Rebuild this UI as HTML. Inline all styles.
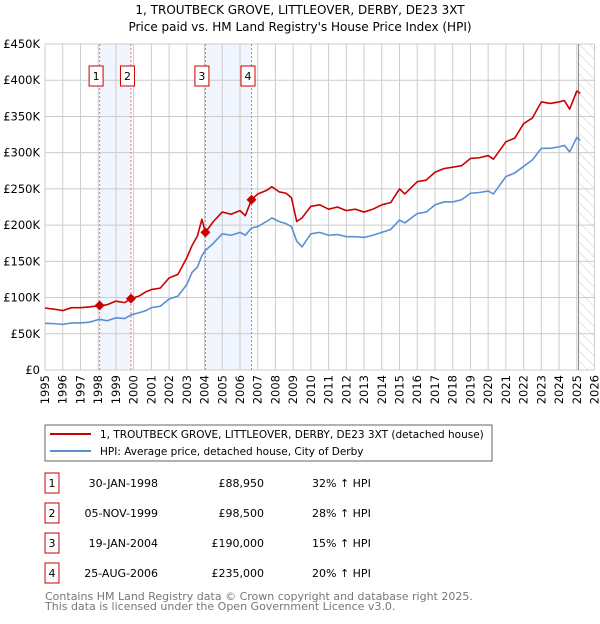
<!DOCTYPE html>
<html><head><meta charset="utf-8"><style>
body{margin:0;background:#fff;width:600px;height:620px;overflow:hidden;font-family:"DejaVu Sans","Liberation Sans",sans-serif}
svg text{font-family:"DejaVu Sans","Liberation Sans",sans-serif}
</style></head><body>
<svg id="chart" width="600" height="620">
<defs><pattern id="hatch" width="7" height="7" patternUnits="userSpaceOnUse" patternTransform="rotate(-45)"><line x1="0" y1="0" x2="0" y2="7" stroke="#ccc" stroke-width="1"/></pattern></defs>
<text x="300" y="14" text-anchor="middle" font-size="12">1, TROUTBECK GROVE, LITTLEOVER, DERBY, DE23 3XT</text>
<text x="300" y="31" text-anchor="middle" font-size="12">Price paid vs. HM Land Registry's House Price Index (HPI)</text>
<g id="plot"></g>
<rect x="45" y="425" width="447" height="36" fill="#fff" stroke="#666"/>
<line x1="50" y1="434" x2="91" y2="434" stroke="#cc0000" stroke-width="2"/>
<text x="100" y="438" font-size="10.5">1, TROUTBECK GROVE, LITTLEOVER, DERBY, DE23 3XT (detached house)</text>
<line x1="50" y1="451" x2="91" y2="451" stroke="#5b8fd4" stroke-width="2"/>
<text x="100" y="455" font-size="10.5">HPI: Average price, detached house, City of Derby</text>
<g id="table" font-size="11"></g>
<text x="45" y="600" font-size="11" fill="#777">Contains HM Land Registry data © Crown copyright and database right 2025.</text>
<text x="45" y="610" font-size="11" fill="#777">This data is licensed under the Open Government Licence v3.0.</text>
</svg>
<script>
const years=[1995,1995.5,1996,1996.5,1997,1997.5,1998.08,1998.5,1999,1999.5,1999.85,2000.3,2000.7,2001,2001.5,2002,2002.5,2003,2003.3,2003.6,2003.85,2004.05,2004.5,2005,2005.5,2006,2006.3,2006.65,2007,2007.5,2007.8,2008.2,2008.6,2008.9,2009.2,2009.5,2010,2010.5,2011,2011.5,2012,2012.5,2013,2013.5,2014,2014.5,2015,2015.3,2016,2016.5,2017,2017.5,2018,2018.5,2019,2019.5,2020,2020.3,2021,2021.5,2022,2022.5,2023,2023.5,2024,2024.3,2024.6,2025,2025.2];
const hpi=[64.5,64,63,65,65,66,70,68,72,71,76,79,82,86,88,98,102,118,135,142,158,165,175,188,186,190,186,196,198,205,210,205,202,198,178,170,188,190,186,187,184,184,183,186,190,194,207,203,216,218,228,232,232,235,244,245,247,243,267,272,281,290,306,306,308,310,301,321,317];
const prop=[85.6,84,82,86,86,87,88.95,90,95,93,98.5,102,108,111,113,127,132,155,172,185,208,190,205,218,215,220,213,235,243,248,253,246,244,238,205,210,226,228,222,225,220,222,218,222,228,231,250,243,260,262,273,278,280,282,292,293,296,291,315,320,340,348,370,368,370,372,360,385,382];
const saleYears=[1998.08,1999.85,2004.05,2006.65];
const saleLabels=["1","2","3","4"];
const salePrices=[88.95,98.5,190,235];
const saleDates=["30-JAN-1998","05-NOV-1999","19-JAN-2004","25-AUG-2006"];
const salePriceText=["£88,950","£98,500","£190,000","£235,000"];
const saleHpi=["32% ↑ HPI","28% ↑ HPI","15% ↑ HPI","20% ↑ HPI"];
const yTicks=[0,50,100,150,200,250,300,350,400,450];
const yTickLabels=["£0","£50K","£100K","£150K","£200K","£250K","£300K","£350K","£400K","£450K"];
const xTicks=[1995,1996,1997,1998,1999,2000,2001,2002,2003,2004,2005,2006,2007,2008,2009,2010,2011,2012,2013,2014,2015,2016,2017,2018,2019,2020,2021,2022,2023,2024,2025,2026];
const L=45,R=594.5,T=44,B=370,X0=1995,X1=2026,YMAX=450;
const X=v=>L+(v-X0)/(X1-X0)*(R-L);
const Y=v=>B-v/YMAX*(B-T);
const NS="http://www.w3.org/2000/svg";
const plot=document.getElementById('plot');
function mk(tag,attrs,parent){const e=document.createElementNS(NS,tag);for(const k in attrs)e.setAttribute(k,attrs[k]);(parent||plot).appendChild(e);return e;}
for(let i=0;i<saleYears.length;i+=2){
 const s=mk('rect',{x:X(saleYears[i]),y:T,width:X(saleYears[i+1])-X(saleYears[i]),height:B-T,fill:'#f1f5fd'});
 
 
}
const hz=mk('rect',{x:X(2025.1),y:T,width:R-X(2025.1),height:B-T,fill:'url(#hatch)'});


yTicks.forEach((v,i)=>{
 const g=mk('line',{x1:L,x2:R,y1:Y(v),y2:Y(v),stroke:'#ccc','stroke-width':1});
 
 
 const t=mk('text',{x:L-5,y:Y(v)+4,'text-anchor':'end','font-size':11.5});
 
 
 t.textContent=yTickLabels[i];
});
xTicks.forEach(v=>{
 const g=mk('line',{x1:X(v),x2:X(v),y1:T,y2:B,stroke:'#ccc','stroke-width':1});
 
 
 const t=mk('text',{x:0,y:0,'text-anchor':'end','font-size':11.5,transform:`translate(${X(v)+4},${B+5}) rotate(-90)`});
 
 
 t.textContent=v;
});
const nl=mk('line',{x1:X(2025.1),x2:X(2025.1),y1:T,y2:B,stroke:'#888','stroke-width':1});


saleYears.forEach((v,i)=>{
 const l=mk('line',{x1:X(v),x2:X(v),y1:T,y2:B,stroke:'#f07070','stroke-width':1,'stroke-dasharray':'2,2'});
 
 
 const b=mk('rect',{x:X(v)-10.5,y:66,width:14,height:20,fill:'#fff',stroke:'#cc0000'});
 
 
 const t=mk('text',{x:X(v)-3.5,y:80,'text-anchor':'middle','font-size':11});
 
 
 t.textContent=saleLabels[i];
});
function line(vals,color,name){
 const p=mk('polyline',{points:years.map((y,i)=>X(y)+','+Y(vals[i])).join(' '),fill:'none',stroke:color,'stroke-width':1.6,'stroke-linejoin':'round'});
 
 
}
line(hpi,'#5b8fd4','hpi-line');
line(prop,'#cc0000','property-price-line');
saleYears.forEach((v,i)=>{
 const d=mk('path',{d:`M${X(v)},${Y(salePrices[i])-5}l5,5l-5,5l-5,-5z`,fill:'#cc0000'});
 
 
});
const tb=document.getElementById('table');
saleYears.forEach((v,i)=>{
 const cy=483+i*30;
 const b=mk('rect',{x:45,y:cy-10,width:14,height:20,fill:'#fff',stroke:'#cc0000'},tb);
 
 
 const cells=[[52,'middle',saleLabels[i],'table-label'],[158,'end',saleDates[i],'table-date'],[264,'end',salePriceText[i],'table-price'],[312,'start',saleHpi[i],'table-hpi-change']];
 cells.forEach(c=>{
  const t=mk('text',{x:c[0],y:cy+4,'text-anchor':c[1]},tb);
  
  
  t.textContent=c[2];
 });
});
</script>
</body></html>
